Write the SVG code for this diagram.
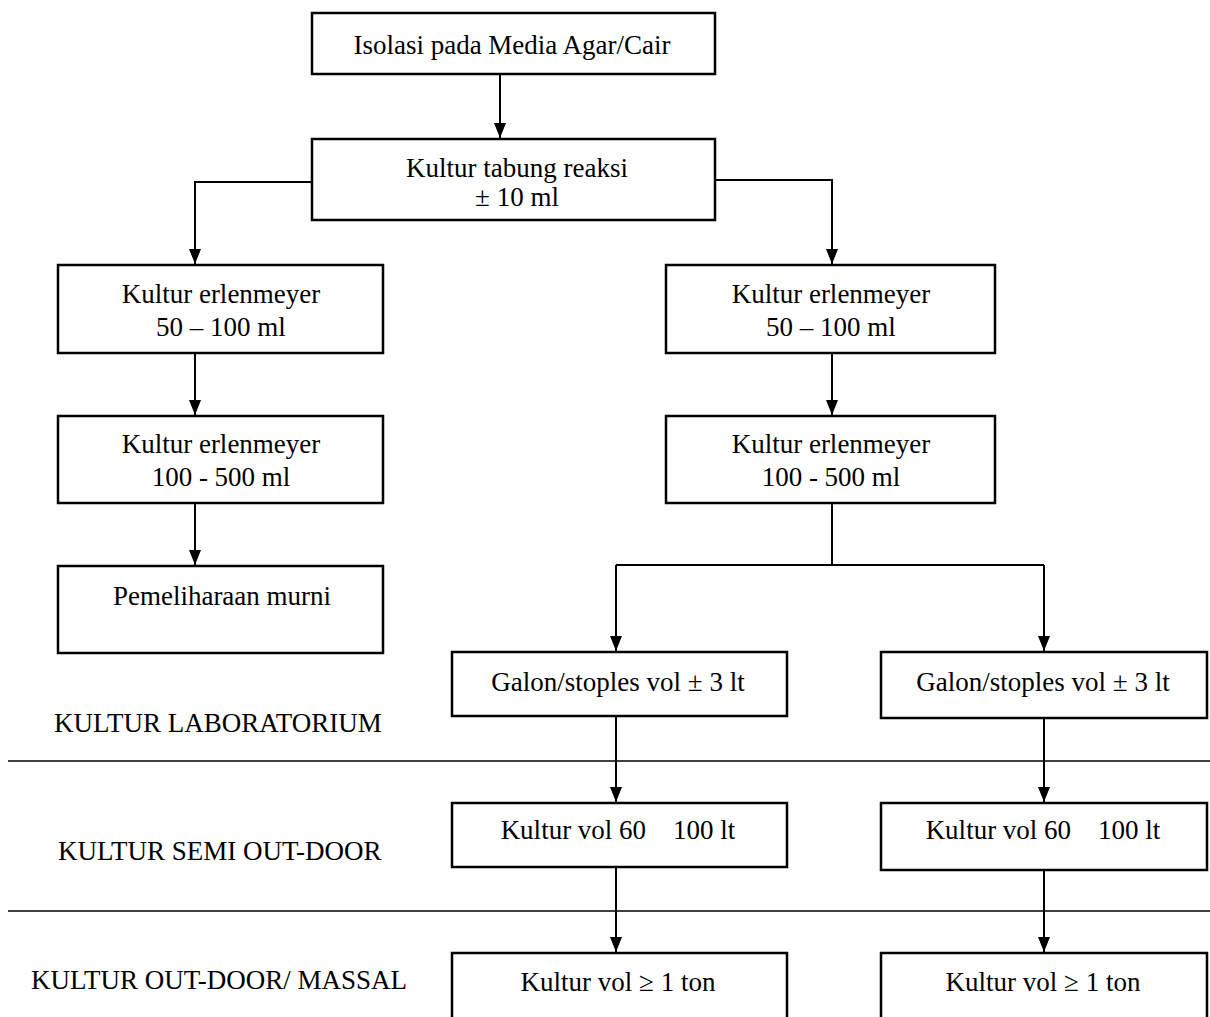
<svg xmlns="http://www.w3.org/2000/svg" width="1210" height="1017" viewBox="0 0 1210 1017">
<defs>
<style>
.box{fill:#fff;stroke:#000;stroke-width:2.5}
.t{font-family:"Liberation Serif","Times New Roman",serif;font-size:27px;fill:#000;text-anchor:middle;white-space:pre}
.lbl{font-family:"Liberation Serif","Times New Roman",serif;font-size:27px;fill:#000;text-anchor:start}
.c{fill:none;stroke:#000;stroke-width:2}
.sep{fill:none;stroke:#000;stroke-width:1.5}
</style>
<marker id="ahd" markerUnits="userSpaceOnUse" markerWidth="14" markerHeight="16" refX="7" refY="15" orient="0" viewBox="0 0 14 16">
<path d="M1,0 L13,0 L7,15 Z" fill="#000"/>
</marker>
</defs>
<rect width="1210" height="1017" fill="#fff"/>

<g id="separators">
<line class="sep" x1="8" y1="761" x2="1210" y2="761"/>
<line class="sep" x1="8" y1="911" x2="1210" y2="911"/>
</g>

<g id="connectors">
<path class="c" d="M500,74 V138" marker-end="url(#ahd)"/>
<path class="c" d="M312,182 H195 V264" marker-end="url(#ahd)"/>
<path class="c" d="M715,180 H832 V264" marker-end="url(#ahd)"/>
<path class="c" d="M195,353 V415" marker-end="url(#ahd)"/>
<path class="c" d="M832,353 V415" marker-end="url(#ahd)"/>
<path class="c" d="M195,503 V565" stroke-width="1.5" marker-end="url(#ahd)"/>
<path class="c" d="M832,503 V565"/>
<path class="c" d="M616,565 H1044"/>
<path class="c" d="M616,565 V651" marker-end="url(#ahd)"/>
<path class="c" d="M1044,565 V651" stroke-width="1.5" marker-end="url(#ahd)"/>
<path class="c" d="M616,716 V802" marker-end="url(#ahd)"/>
<path class="c" d="M1044,718 V802" stroke-width="1.5" marker-end="url(#ahd)"/>
<path class="c" d="M616,867 V952" marker-end="url(#ahd)"/>
<path class="c" d="M1044,870 V952" stroke-width="1.5" marker-end="url(#ahd)"/>
</g>

<g id="n-isolasi">
<rect class="box" x="312" y="13" width="403" height="61"/>
<text class="t" x="512" y="54">Isolasi pada Media Agar/Cair</text>
</g>
<g id="n-tabung">
<rect class="box" x="312" y="139" width="403" height="81"/>
<text class="t" x="517" y="177">Kultur tabung reaksi</text>
<text class="t" x="517" y="206">± 10 ml</text>
</g>
<g id="n-erl1-left">
<rect class="box" x="58" y="265" width="325" height="88"/>
<text class="t" x="221" y="303">Kultur erlenmeyer</text>
<text class="t" x="221" y="336">50 – 100 ml</text>
</g>
<g id="n-erl1-right">
<rect class="box" x="666" y="265" width="329" height="88"/>
<text class="t" x="831" y="303">Kultur erlenmeyer</text>
<text class="t" x="831" y="336">50 – 100 ml</text>
</g>
<g id="n-erl2-left">
<rect class="box" x="58" y="416" width="325" height="87"/>
<text class="t" x="221" y="453">Kultur erlenmeyer</text>
<text class="t" x="221" y="486">100 - 500 ml</text>
</g>
<g id="n-erl2-right">
<rect class="box" x="666" y="416" width="329" height="87"/>
<text class="t" x="831" y="453">Kultur erlenmeyer</text>
<text class="t" x="831" y="486">100 - 500 ml</text>
</g>
<g id="n-murni">
<rect class="box" x="58" y="566" width="325" height="87"/>
<text class="t" x="222" y="605">Pemeliharaan murni</text>
</g>
<g id="n-galon-left">
<rect class="box" x="452" y="652" width="335" height="64"/>
<text class="t" x="618" y="691">Galon/stoples vol ± 3 lt</text>
</g>
<g id="n-galon-right">
<rect class="box" x="881" y="652" width="326" height="66"/>
<text class="t" x="1043" y="691">Galon/stoples vol ± 3 lt</text>
</g>
<g id="n-vol60-left">
<rect class="box" x="452" y="803" width="335" height="64"/>
<text class="t" x="618" y="839">Kultur vol 60    100 lt</text>
</g>
<g id="n-vol60-right">
<rect class="box" x="881" y="803" width="326" height="67"/>
<text class="t" x="1043" y="839">Kultur vol 60    100 lt</text>
</g>
<g id="n-ton-left">
<rect class="box" x="452" y="953" width="335" height="70"/>
<text class="t" x="618" y="991">Kultur vol ≥ 1 ton</text>
</g>
<g id="n-ton-right">
<rect class="box" x="881" y="953" width="326" height="70"/>
<text class="t" x="1043" y="991">Kultur vol ≥ 1 ton</text>
</g>

<g id="labels">
<text class="lbl" x="54" y="732">KULTUR LABORATORIUM</text>
<text class="lbl" x="58" y="860">KULTUR SEMI OUT-DOOR</text>
<text class="lbl" x="31" y="989">KULTUR OUT-DOOR/ MASSAL</text>
</g>
</svg>
